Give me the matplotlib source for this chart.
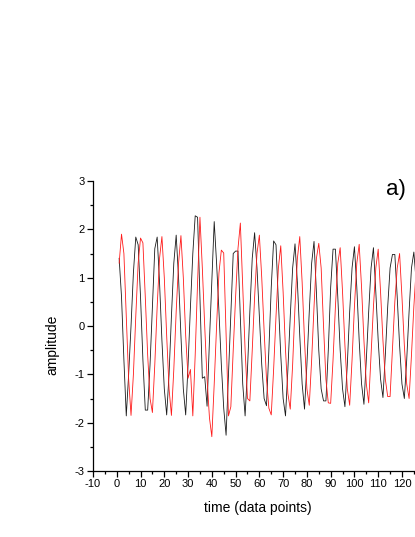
import matplotlib

matplotlib.use("Agg")
import matplotlib.pyplot as plt
from matplotlib.ticker import MultipleLocator

plt.rcParams["font.family"] = ["Liberation Sans", "DejaVu Sans"]
plt.rcParams["axes.unicode_minus"] = False

# sample index (data points)
t = list(range(1, 129))

# black trace, one value per data point
black = [
    1.40, 0.60, -0.70, -1.86, -1.00, 0.00, 1.10, 1.84, 1.68, 0.60,
    -0.70, -1.74, -1.74, -0.80, 0.40, 1.60, 1.84, 0.90, -0.30, -1.30,
    -1.84, -1.00, 0.20, 1.30, 1.88, 1.00, -0.20, -1.30, -1.84, -0.80,
    0.40, 1.50, 2.28, 2.25, 0.60, -1.08, -1.05, -1.66, -0.30, 0.95,
    2.16, 1.30, 0.30, -0.80, -1.70, -2.26, -1.00, 0.30, 1.50, 1.55,
    1.55, 0.20, -1.20, -1.86, -0.90, 0.30, 1.40, 1.93, 1.20, 0.20,
    -0.80, -1.50, -1.65, -0.50, 0.80, 1.76, 1.68, 0.50, -0.60, -1.50,
    -1.86, -0.90, 0.20, 1.20, 1.70, 0.90, -0.20, -1.20, -1.72, -0.80,
    0.30, 1.30, 1.75, 0.70, -0.50, -1.30, -1.55, -1.55, -0.50, 0.80,
    1.59, 1.59, 0.60, -0.50, -1.30, -1.67, -0.80, 0.30, 1.20, 1.64,
    0.80, -0.30, -1.20, -1.62, -0.70, 0.30, 1.20, 1.62, 0.70, -0.30,
    -1.10, -1.48, -0.60, 0.40, 1.20, 1.48, 1.48, 0.60, -0.40, -1.20,
    -1.50, -0.70, 0.30, 1.20, 1.53, 0.90, -0.30, -1.20,
]

# red trace, one value per data point
red = [
    1.30, 1.90, 1.50, 0.20, -1.10, -1.85, -1.00, 0.20, 1.30, 1.82,
    1.72, 0.60, -0.60, -1.50, -1.79, -0.80, 0.40, 1.40, 1.85, 1.00,
    -0.20, -1.30, -1.85, -0.90, 0.30, 1.30, 1.87, 1.00, -0.20, -1.08,
    -0.90, -1.86, -0.60, 0.90, 2.25, 1.20, 0.00, -1.10, -1.90, -2.29,
    -1.20, 0.00, 1.10, 1.57, 1.51, -0.20, -1.86, -1.67, -0.50, 0.60,
    1.60, 2.13, 0.80, -0.50, -1.50, -1.55, -0.50, 0.60, 1.50, 1.88,
    1.00, -0.10, -1.10, -1.70, -1.84, -0.90, 0.20, 1.20, 1.66, 0.70,
    -0.50, -1.40, -1.72, -0.80, 0.40, 1.40, 1.85, 0.90, -0.30, -1.30,
    -1.64, -0.70, 0.40, 1.40, 1.71, 1.20, 0.00, -1.10, -1.59, -1.60,
    -0.70, 0.40, 1.30, 1.62, 0.70, -0.40, -1.30, -1.64, -0.70, 0.40,
    1.30, 1.69, 0.80, -0.30, -1.20, -1.59, -0.60, 0.40, 1.20, 1.59,
    0.70, -0.30, -1.10, -1.46, -1.46, -0.50, 0.50, 1.20, 1.50, 0.60,
    -0.40, -1.20, -1.50, -0.60, 0.40, 1.20, 1.55, 0.80,
]

fig = plt.figure(figsize=(4.15, 5.37), dpi=100)
# axes runs just past the right edge of the figure, as in the original crop
ax = fig.add_axes([93 / 415, 66 / 537, 325.6 / 415, 290 / 537])

ax.plot(t, black, color="#1a1a1a", linewidth=0.6)
ax.plot(t, red, color="#ff1a1a", linewidth=0.6)

ax.set_xlim(-10, 127)
ax.set_ylim(-3, 3)
ax.xaxis.set_major_locator(MultipleLocator(10))
ax.xaxis.set_minor_locator(MultipleLocator(5))
ax.yaxis.set_major_locator(MultipleLocator(1))
ax.yaxis.set_minor_locator(MultipleLocator(0.5))
ax.tick_params(which="major", direction="out", length=4, width=0.9,
               labelsize=8, pad=2)
ax.tick_params(which="minor", direction="out", length=2.5, width=0.9)

ax.spines["top"].set_visible(False)
ax.spines["right"].set_visible(False)
for side in ("left", "bottom"):
    ax.spines[side].set_linewidth(0.9)

fig.text(258 / 415, 1 - 508 / 537, "time (data points)",
         ha="center", va="center", fontsize=10)
fig.text(52 / 415, 1 - 345 / 537, "amplitude", rotation=90,
         ha="center", va="center", fontsize=10)
fig.text(395.5 / 415, 1 - 190 / 537, "a)", ha="center", va="center",
         fontsize=16)

fig.savefig("out.png", dpi=100)
